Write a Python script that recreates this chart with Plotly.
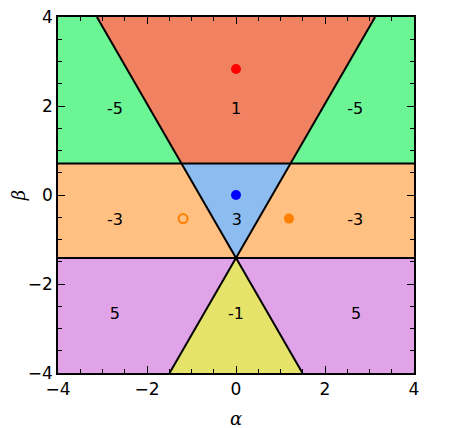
import numpy as np
import plotly.graph_objects as go

# region boundaries: two horizontal lines and an X through (0, beta_low)
beta_high = 1 / np.sqrt(2)
beta_low = -np.sqrt(2)
slope = np.sqrt(3)
lim = 4

# region labels (value, alpha, beta)
label_text = ["-5", "1", "-5", "-3", "3", "-3", "5", "-1", "5"]
label_alpha = [-2.72, 0, 2.68, -2.72, 0.02, 2.68, -2.72, 0, 2.7]
label_beta = [1.9, 1.9, 1.9, -0.58, -0.58, -0.58, -2.7, -2.7, -2.7]

# points
pt_alpha = [0, 0, 1.19, -1.19]
pt_beta = [2.83, 0, -0.53, -0.53]
pt_color = ["#ff0000", "#0000ff", "#ff8000", "#ff8000"]
pt_open = [False, False, False, True]

colors = {"green": "#6bf594", "red": "#f08262", "blue": "#8dbdf0",
          "orange": "#ffc082", "purple": "#e0a3e8", "yellow": "#e6e36b"}


def cross(b):
    # alpha where the X lines reach beta = b
    return abs(b - beta_low) / slope


fig = go.Figure()


def poly(xs, ys, c):
    fig.add_trace(go.Scatter(x=xs + [xs[0]], y=ys + [ys[0]], fill="toself", fillcolor=c,
                             mode="lines", line=dict(width=0), hoverinfo="skip", showlegend=False))


# bands
poly([-lim, lim, lim, -lim], [lim, lim, beta_high, beta_high], colors["green"])
poly([-lim, lim, lim, -lim], [beta_high, beta_high, beta_low, beta_low], colors["orange"])
poly([-lim, lim, lim, -lim], [beta_low, beta_low, -lim, -lim], colors["purple"])
# wedges
a4, ah, am = cross(lim), cross(beta_high), cross(-lim)
poly([-a4, a4, ah, -ah], [lim, lim, beta_high, beta_high], colors["red"])
poly([-ah, ah, 0], [beta_high, beta_high, beta_low], colors["blue"])
poly([0, am, -am], [beta_low, -lim, -lim], colors["yellow"])

# boundary lines
line = dict(color="black", width=2)
for b in [beta_high, beta_low]:
    fig.add_trace(go.Scatter(x=[-lim, lim], y=[b, b], mode="lines", line=line, showlegend=False))
fig.add_trace(go.Scatter(x=[-a4, am], y=[lim, -lim], mode="lines", line=line, showlegend=False))
fig.add_trace(go.Scatter(x=[a4, -am], y=[lim, -lim], mode="lines", line=line, showlegend=False))

fig.add_trace(go.Scatter(x=label_alpha, y=label_beta, mode="text", text=label_text,
                         textfont=dict(family="DejaVu Sans", size=16, color="black"),
                         showlegend=False, hoverinfo="skip"))

for x, y, c, o in zip(pt_alpha, pt_beta, pt_color, pt_open):
    fig.add_trace(go.Scatter(x=[x], y=[y], mode="markers", showlegend=False,
                             marker=dict(size=10 if not o else 9, color="rgba(0,0,0,0)" if o else c,
                                         line=dict(color=c, width=2 if o else 0))))

axis = dict(range=[-lim, lim], dtick=2, ticks="inside", ticklen=7, tickwidth=1, tickcolor="black",
            minor=dict(dtick=0.5, ticks="inside", ticklen=4, tickcolor="black"),
            showline=True, linecolor="black", linewidth=1.5, mirror="ticks", automargin=False,
            ticklabeloverflow="allow",
            showgrid=False, zeroline=False, tickfont=dict(family="DejaVu Sans", size=17, color="black"))

fig.update_xaxes(**axis, title=dict(text="<i>α</i>", font=dict(family="DejaVu Serif", size=18, color="black"), standoff=14))
fig.update_yaxes(**axis, title=dict(text="<i>β</i>", font=dict(family="DejaVu Serif", size=18, color="black"), standoff=0))
# page body adds 8px offset, so margins shifted to keep the plot box at the reference position
fig.update_layout(width=463, height=428, margin=dict(l=50, r=57, t=9, b=63),
                  plot_bgcolor="white", paper_bgcolor="white")

fig.write_html("out.html")
